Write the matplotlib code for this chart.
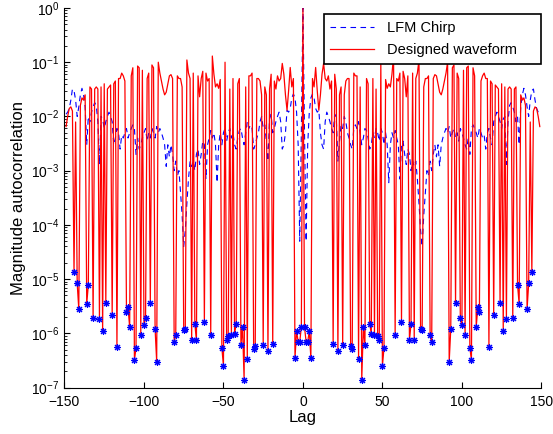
import numpy as np
from matplotlib import pyplot as plt

# Autocorrelation is symmetric: values below are read for lags 0..149 and mirrored
lag_pos = np.arange(0, 150)

designed_pos = [
    1.0, 1.3e-6, 7e-7, 7e-7, 1.1e-6, 3.5e-7, 0.05, 0.035, 0.08, 0.03,
    0.013, 0.025, 0.06, 0.095, 0.05, 0.045, 0.056, 0.032, 0.045, 6.3e-7,
    0.06, 0.032, 4.8e-7, 0.025, 0.035, 6.2e-7, 0.025, 0.045, 0.05, 0.05,
    5.9e-7, 5.1e-7, 0.063, 0.056, 0.056, 3.3e-7, 0.035, 1.4e-7, 1.3e-6, 6.2e-7,
    0.05, 0.04, 1.5e-6, 9.8e-7, 0.05, 9.5e-7, 0.032, 9.1e-7, 7.4e-7, 0.1,
    2.5e-7, 5.4e-7, 0.048, 0.033, 0.04, 0.035, 0.06, 0.13, 9.5e-7, 0.05,
    0.045, 0.063, 1.6e-6, 0.068, 0.05, 0.023, 0.056, 7.4e-7, 1.5e-6, 0.063,
    7.6e-7, 0.05, 0.063, 0.11, 1.2e-6, 1.15e-6, 0.035, 0.05, 0.05, 0.056,
    9.3e-7, 6.8e-7, 0.05, 0.059, 0.056, 0.04, 0.028, 0.025, 0.032, 0.045,
    0.063, 0.1, 3e-7, 1.2e-6, 0.079, 0.089, 3.6e-6, 0.063, 0.05, 1.9e-6,
    1.4e-6, 0.071, 9.5e-7, 0.079, 0.085, 5.4e-7, 3.2e-7, 0.079, 0.056, 1.3e-6,
    3e-6, 2.5e-6, 0.045, 0.056, 0.063, 0.05, 0.05, 5.6e-7, 0.045, 0.04,
    2.2e-6, 0.038, 0.035, 0.032, 3.6e-6, 0.04, 1.1e-6, 0.035, 1.8e-6, 0.032,
    0.035, 0.032, 1.9e-6, 0.032, 0.035, 7.8e-6, 3.5e-6, 0.025, 0.02, 0.022,
    0.016, 2.8e-6, 8.3e-6, 0.0079, 1.35e-5, 0.0126, 0.015, 0.014, 0.01, 0.0065,
]

lfm_pos = [
    1.0, 5e-3, 5e-5, 3e-3, 1.2e-2, 2.2e-2, 2.6e-2, 2.2e-2, 1.4e-2, 1.2e-2,
    1.3e-2, 5e-3, 3e-3, 2.5e-3, 8e-3, 1.2e-2, 1e-2, 8e-3, 6e-3, 5e-3,
    1.1e-2, 9e-3, 1.5e-3, 3.5e-3, 7e-3, 6e-3, 1e-2, 8e-3, 5e-3, 4e-3,
    3e-3, 2.5e-3, 6e-3, 7e-3, 6e-3, 8e-3, 5e-3, 3e-3, 4e-3, 6e-3,
    5.5e-3, 4e-3, 2.5e-3, 3e-3, 5e-3, 4e-3, 6e-3, 5e-3, 3.5e-3, 6e-3,
    5e-3, 3e-3, 5e-3, 3e-3, 6e-4, 3e-3, 5e-3, 4e-3, 5.5e-3, 4e-3,
    3e-3, 7e-4, 3e-3, 3.5e-3, 2e-3, 1.3e-3, 2.5e-3, 2e-3, 1e-3, 1.5e-3,
    1.2e-3, 1.5e-3, 7e-4, 2.5e-4, 8e-5, 4e-5, 1.5e-4, 4e-4, 1e-3, 8e-4,
    1.5e-3, 1e-3, 2e-3, 3e-3, 1.8e-3, 3e-3, 1.2e-3, 3e-3, 4e-3, 5e-3,
    6e-3, 5e-3, 6.5e-3, 4e-3, 5e-3, 6e-3, 4e-3, 5e-3, 3.5e-3, 6e-3,
    5e-3, 4e-3, 3e-3, 2.5e-3, 4e-3, 2e-3, 6e-3, 7e-3, 6e-3, 5e-3,
    4e-3, 6e-3, 5e-3, 4e-3, 4.5e-3, 2.5e-3, 5e-3, 6e-3, 4e-3, 3e-3,
    8e-3, 1e-2, 1.2e-2, 1e-2, 8e-3, 6e-3, 9e-3, 1e-2, 1.3e-3, 8e-3,
    1.6e-2, 1.8e-2, 1.5e-2, 1.2e-2, 8e-3, 1e-2, 3e-3, 1.5e-2, 2.5e-2, 3.3e-2,
    2.5e-2, 1.5e-2, 1e-2, 2e-2, 3e-2, 3.2e-2, 2e-2, 1.4e-2, 1.2e-2, 1.1e-2,
]

# lags where the designed waveform has nulls (marked with *)
null_lags_pos = [1, 2, 3, 4, 5, 19, 22, 25, 30, 31, 35, 37, 38, 39, 42, 43, 45,
                 47, 48, 50, 51, 58, 62, 67, 68, 70, 74, 75, 80, 81, 92, 93, 96,
                 99, 100, 102, 105, 106, 109, 110, 111, 117, 120, 124, 126, 128,
                 132, 135, 136, 141, 142, 144]

x_ticks = [-150, -100, -50, 0, 50, 100, 150]

# mirror to negative lags
lags = np.concatenate([-lag_pos[:0:-1], lag_pos])
designed = np.concatenate([np.array(designed_pos)[:0:-1], designed_pos])
lfm = np.concatenate([np.array(lfm_pos)[:0:-1], lfm_pos])
null_lags = np.array(sorted([-k for k in null_lags_pos] + null_lags_pos))
null_vals = designed[null_lags + 149]

plt.rcParams['font.family'] = ['Liberation Sans', 'DejaVu Sans']

fig = plt.figure(figsize=(5.53, 4.34), dpi=100)
ax = fig.add_axes([0.1166, 0.107, 0.8624, 0.8746])

ax.plot(lags, lfm, color='blue', linestyle=(0, (5, 4)), linewidth=0.8, label='LFM Chirp')
ax.plot(lags, designed, color='red', linewidth=0.9, label='Designed waveform')
ax.plot(null_lags, null_vals, linestyle='none', marker=(8, 2, 0), markersize=5,
        markeredgewidth=0.8, color='blue')

ax.set_yscale('log')
ax.set_ylim(1e-7, 1)
ax.set_xlim(-150, 150)
ax.set_xticks(x_ticks)
ax.tick_params(which='both', direction='in', labelsize=10)
ax.tick_params(which='major', length=4)
ax.tick_params(which='minor', length=2)
ax.tick_params(axis='x', pad=5)
ax.spines['top'].set_visible(False)
ax.spines['right'].set_visible(False)

ax.set_xlabel('Lag', fontsize=12, labelpad=1)
ax.set_ylabel('Magnitude autocorrelation', fontsize=12, labelpad=4)

# legend box stretched like the MATLAB one (text left, extra room on the right)
leg = ax.legend(loc='upper right', bbox_to_anchor=(0.544, 0.884, 0.4545, 0.1),
                mode='expand', borderaxespad=0, fancybox=False, framealpha=1,
                edgecolor='black', fontsize=10.5, handlelength=3.0,
                handletextpad=0.9, labelspacing=0.6, borderpad=0.45)
leg.get_frame().set_linewidth(1.2)

fig.savefig('out.png')
plt.close(fig)
